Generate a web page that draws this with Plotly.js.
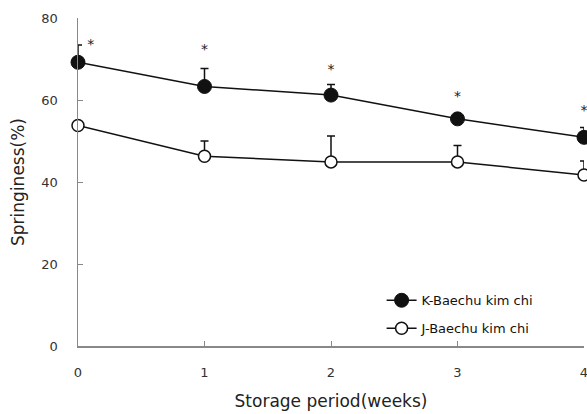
<!DOCTYPE html>
<html>
<head>
<meta charset="utf-8">
<script src="https://cdn.plot.ly/plotly-3.0.1.min.js"></script>
<style>html,body{margin:0;padding:0;background:#fff;}#chart{width:587px;height:414px;}</style>
</head>
<body>
<div id="chart"></div>
<script>
const weeks = [0, 1, 2, 3, 4];
const tickLabels = ['0', '1', '2', '3', '4'];
const kValues = [69.2, 63.3, 61.2, 55.4, 50.9];
const kErrors = [4.2, 4.4, 2.6, 0.6, 2.4];
const jValues = [53.8, 46.3, 44.9, 44.9, 41.7];
const jErrors = [0.5, 3.7, 6.3, 4.0, 3.4];
const starY = [73.4, 72.0, 67.3, 60.7, 57.3];
const starX = [0.1, 0, 0, 0, 0];

const font = 'DejaVu Sans, Noto Sans, sans-serif';

const traces = [
  {
    x: weeks, y: kValues, name: 'K-Baechu kim chi', type: 'scatter', mode: 'lines+markers',
    legendgroup: 'k',
    line: {color: '#111', width: 1.5},
    marker: {symbol: 'circle', size: 14, color: '#111', line: {color: '#111', width: 1}},
    error_y: {type: 'data', symmetric: false, array: kErrors, arrayminus: kErrors.map(() => 0), color: '#111', thickness: 1.5, width: 4},
    cliponaxis: false
  },
  {
    x: weeks, y: jValues, name: 'J-Baechu kim chi', type: 'scatter', mode: 'lines+markers',
    legendgroup: 'j',
    line: {color: '#111', width: 1.5},
    marker: {symbol: 'circle', size: 12, color: '#fff', line: {color: '#111', width: 1.5}},
    error_y: {type: 'data', symmetric: false, array: jErrors, arrayminus: jErrors.map(() => 0), color: '#111', thickness: 1.5, width: 4},
    cliponaxis: false
  },
  {
    x: weeks.map((w, i) => w + starX[i]), y: starY, type: 'scatter', mode: 'text', text: weeks.map(() => '*'),
    textfont: {family: font, size: 14, color: '#222'}, showlegend: false, hoverinfo: 'skip', cliponaxis: false
  }
];

const layout = {
  width: 587, height: 414,
  margin: {l: 78, r: 3, t: 18, b: 68},
  paper_bgcolor: '#fff', plot_bgcolor: '#fff',
  showlegend: true,
  legend: {
    x: 0.6, y: 0.185, xanchor: 'left', yanchor: 'top',
    traceorder: 'grouped', tracegroupgap: 8,
    font: {family: font, size: 13, color: '#111'},
    bgcolor: 'rgba(0,0,0,0)', itemwidth: 30
  },
  xaxis: {
    range: [0, 4], tickvals: weeks, ticktext: tickLabels,
    showline: true, linecolor: '#888', linewidth: 1.5,
    ticks: 'inside', ticklen: 5, tickcolor: '#888', ticklabelstandoff: 14,
    ticklabeloverflow: 'allow',
    showgrid: false, zeroline: false,
    tickfont: {family: font, size: 13, color: '#333'},
    title: {text: 'Storage period(weeks)', font: {family: font, size: 17, color: '#222'}, standoff: 16}
  },
  yaxis: {
    range: [0, 80], tickvals: [0, 20, 40, 60, 80],
    showline: true, linecolor: '#888', linewidth: 1.5,
    ticks: 'inside', ticklen: 5, tickcolor: '#888', ticklabelstandoff: 16,
    showgrid: false, zeroline: false,
    tickfont: {family: font, size: 13, color: '#333'},
    title: {text: 'Springiness(%)', font: {family: font, size: 17, color: '#222'}, standoff: 12}
  }
};

Plotly.newPlot('chart', traces, layout, {displayModeBar: false, staticPlot: true});
</script>
</body>
</html>
